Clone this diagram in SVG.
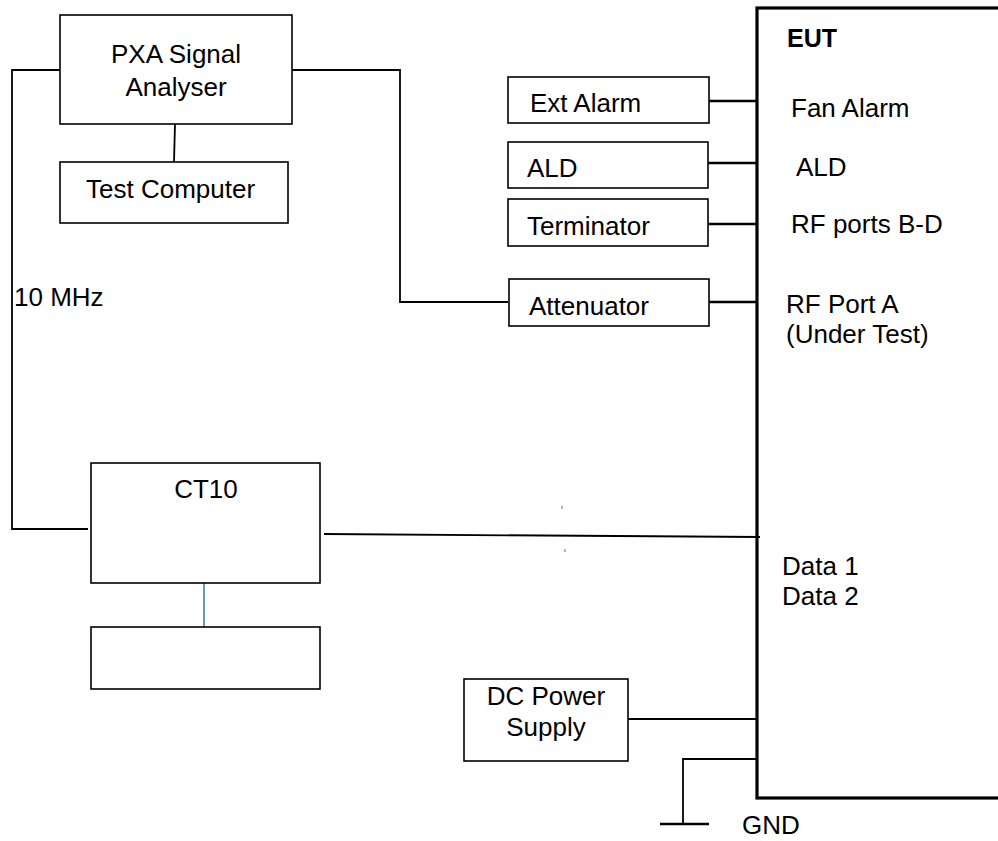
<svg xmlns="http://www.w3.org/2000/svg" width="998" height="841" viewBox="0 0 998 841">
<style>
.box{fill:#fff;stroke:#000;stroke-width:1.6}
.eut{fill:#fff;stroke:#000;stroke-width:3.2}
.w{fill:none;stroke:#000;stroke-width:1.8}
.wt{fill:none;stroke:#000;stroke-width:2.6}
text{font-family:"Liberation Sans",Arial,sans-serif;font-size:26px;fill:#000}
.c{text-anchor:middle}
</style>
<rect width="998" height="841" fill="#fff"/>
<g id="eut">
<rect class="eut" x="757" y="8" width="260" height="790"/>
<text x="787" y="47" style="font-weight:bold;font-size:25px">EUT</text>
<text x="791" y="117">Fan Alarm</text>
<text x="796" y="176">ALD</text>
<text x="791" y="233">RF ports B-D</text>
<text x="786" y="313">RF Port A</text>
<text x="786" y="343">(Under Test)</text>
<text x="782" y="575">Data 1</text>
<text x="782" y="605">Data 2</text>
</g>
<g id="connectors">
<polyline class="w" points="60,70 12,70 12,529 88,529"/>
<line class="w" x1="175" y1="124" x2="174" y2="162"/>
<polyline class="w" points="292,70 400,70 400,302 508,302"/>
<line class="wt" x1="709" y1="101" x2="757" y2="101"/>
<line class="wt" x1="708" y1="163" x2="757" y2="163"/>
<line class="wt" x1="708" y1="224" x2="757" y2="224"/>
<line class="wt" x1="709" y1="302" x2="757" y2="302"/>
<line class="w" x1="324" y1="534" x2="760" y2="537"/>
<line x1="204" y1="583" x2="204" y2="627" stroke="#4a7bc0" stroke-width="1.6"/>
<line class="w" x1="628" y1="719" x2="757" y2="719"/>
<polyline class="w" points="757,759 683,759 683,824"/>
<line class="wt" x1="660" y1="824" x2="709" y2="824"/>
<line x1="562" y1="506" x2="562" y2="509" stroke="#666" stroke-width="1"/>
<line x1="565" y1="549" x2="565" y2="552" stroke="#666" stroke-width="1"/>
</g>
<g id="pxa">
<rect class="box" x="60" y="15" width="232" height="109"/>
<text class="c" x="176" y="63">PXA Signal</text>
<text class="c" x="176" y="96">Analyser</text>
</g>
<g id="test-computer">
<rect class="box" x="60" y="162" width="228" height="61"/>
<text x="86" y="198">Test Computer</text>
</g>
<text id="label-10mhz" x="14" y="306">10 MHz</text>
<g id="ext-alarm">
<rect class="box" x="508" y="77" width="201" height="46"/>
<text x="530" y="112">Ext Alarm</text>
</g>
<g id="ald">
<rect class="box" x="508" y="142" width="200" height="46"/>
<text x="527" y="177">ALD</text>
</g>
<g id="terminator">
<rect class="box" x="508" y="199" width="200" height="47"/>
<text x="527" y="235">Terminator</text>
</g>
<g id="attenuator">
<rect class="box" x="509" y="279" width="200" height="47"/>
<text x="529" y="315">Attenuator</text>
</g>
<g id="ct10">
<rect class="box" x="91" y="463" width="229" height="120"/>
<text class="c" x="206" y="498">CT10</text>
</g>
<g id="blank-box">
<rect class="box" x="91" y="627" width="229" height="62"/>
</g>
<g id="dc-power">
<rect class="box" x="464" y="679" width="164" height="82"/>
<text class="c" x="546" y="705">DC Power</text>
<text class="c" x="546" y="736">Supply</text>
</g>
<text id="gnd" x="742" y="834">GND</text>
</svg>
